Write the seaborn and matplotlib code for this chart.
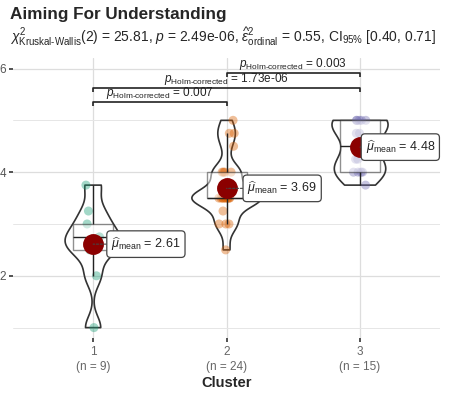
import numpy as np
import pandas as pd
import matplotlib
matplotlib.use("Agg")
import matplotlib.pyplot as plt
import seaborn as sns

# ---- data -------------------------------------------------------------
clusters = ["1", "2", "3"]
cluster1 = [1.0, 2.0, 2.5, 2.5, 2.75, 2.75, 3.0, 3.25, 3.75]
cluster2 = [2.5, 3.0, 3.0, 3.0, 3.25, 3.5, 3.5, 3.5, 3.5, 3.5, 3.5, 3.5, 3.5,
            3.5, 3.5, 3.75, 4.0, 4.0, 4.0, 4.0, 4.5, 4.75, 4.75, 5.0]
cluster3 = [3.75, 4.0, 4.0, 4.0, 4.0, 4.25, 4.25, 4.5, 4.75, 4.75,
            5.0, 5.0, 5.0, 5.0, 5.0]
pairs = [("1", "2"), ("1", "3"), ("2", "3")]
pair_pvalues = ["0.007", "1.73e-06", "0.003"]

title = "Aiming For Understanding"
subtitle = (r"$\chi^2_{\mathrm{Kruskal\text{-}Wallis}}(2)$ = 25.81, $\mathit{p}$ = 2.49e-06, "
            r"$\widehat{\epsilon}^2_{\mathrm{ordinal}}$ = 0.55, CI$_{95\%}$ [0.40, 0.71]")

groups = [cluster1, cluster2, cluster3]
df = pd.DataFrame({
    "Cluster": np.repeat(clusters, [len(g) for g in groups]),
    "value": np.concatenate(groups),
})

# ---- style ------------------------------------------------------------
sns.set_theme(style="whitegrid")
plt.rcParams["font.family"] = ["Liberation Sans", "DejaVu Sans"]
plt.rcParams["mathtext.fontset"] = "custom"
plt.rcParams["mathtext.rm"] = "Liberation Sans"
plt.rcParams["mathtext.it"] = "Liberation Sans:italic"
plt.rcParams["mathtext.bf"] = "Liberation Sans:bold"

palette = ["#1B9E77", "#D95F02", "#7570B3"]
violin_widths = [0.42, 0.52, 0.42]
bracket_levels = [5.35, 5.62, 5.91]

fig = plt.figure(figsize=(4.5, 3.93), dpi=100)
ax = fig.add_axes([0.029, 0.14, 0.949, 0.712])

# violins: one per group, bandwidth following R's nrd0 rule
for name, vals, w in zip(clusters, groups, violin_widths):
    v = np.asarray(vals)
    iqr = np.subtract(*np.percentile(v, [75, 25]))
    sd = v.std(ddof=1)
    bw = 0.9 * min(sd, iqr / 1.34) * len(v) ** -0.2
    sns.violinplot(x=[name] * len(v), y=v, order=clusters, cut=0, inner=None,
                   fill=False, color="#333333", linewidth=1.2,
                   bw_method=bw / sd, width=w, density_norm="width", ax=ax)

np.random.seed(3)
sns.stripplot(data=df, x="Cluster", y="value", hue="Cluster", order=clusters,
              palette=palette, alpha=0.4, size=6.5, jitter=0.06, linewidth=0,
              legend=False, ax=ax, zorder=3)

sns.boxplot(data=df, x="Cluster", y="value", order=clusters, width=0.3,
            showfliers=False, showcaps=False, whis=1.5, color="white",
            linecolor="#222222", linewidth=1.0,
            boxprops=dict(alpha=0.5), ax=ax, zorder=4)

sns.pointplot(data=df, x="Cluster", y="value", order=clusters, estimator="mean",
              errorbar=None, color="#8B0000", markers="o", markersize=13,
              linestyle="none", ax=ax, zorder=6)

# mean labels
label_offsets = [9, 11, 0]
for i, (vals, dx) in enumerate(zip(groups, label_offsets)):
    m = np.mean(vals)
    ax.annotate(r"$\widehat{\mu}_{\mathrm{mean}}$ = " + f"{m:.2f}",
                xy=(i, m), xytext=(dx + 4, 0), textcoords="offset points",
                ha="left", va="center", fontsize=9, color="#222222",
                bbox=dict(boxstyle="round,pad=0.35,rounding_size=0.3",
                          fc="white", ec="#444444", lw=0.9),
                arrowprops=dict(arrowstyle="-", color="#444444", lw=0.8,
                                linestyle=(0, (2, 1.5)), shrinkA=0, shrinkB=0),
                zorder=8)

# pairwise comparison brackets
tip = 0.07
for (a, b), p, yl in zip(pairs, pair_pvalues, bracket_levels):
    xa, xb = clusters.index(a), clusters.index(b)
    ax.plot([xa, xa, xb, xb], [yl - tip, yl, yl, yl - tip], color="#222222",
            lw=1.2, solid_capstyle="butt", zorder=7)
    ax.text((xa + xb) / 2, yl + 0.03, r"$\mathit{p}_{\mathrm{Holm\text{-}corrected}}$ = " + p,
            ha="center", va="bottom", fontsize=8.5, color="#222222", zorder=7)

# axes
ax.set_xlim(-0.6, 2.6)
ax.set_ylim(0.8, 6.2)
ax.set_yticks([2, 4, 6])
ax.set_yticks([1, 3, 5], minor=True)
ax.set_xticks(range(3))
ax.set_xticklabels([f"{c}\n(n = {len(g)})" for c, g in zip(clusters, groups)],
                   fontsize=8.5, color="#666666", linespacing=1.3)
ax.tick_params(axis="both", which="major", bottom=True, left=True,
               length=3, width=1.2, color="#333333")
ax.tick_params(axis="both", which="minor", bottom=False, left=False)
ax.tick_params(axis="y", labelsize=8.5, labelcolor="#555555", pad=2)
ax.tick_params(axis="x", pad=3)
ax.grid(True, which="major", color="#DDDDDD", lw=0.9)
ax.grid(True, which="minor", axis="y", color="#E6E6E6", lw=0.7)
for s in ax.spines.values():
    s.set_visible(False)
ax.set_xlabel("Cluster", fontsize=10.5, fontweight="bold", labelpad=2)
ax.set_ylabel("")

fig.text(0.022, 0.962, title, fontsize=12.3, fontweight="bold", va="center", ha="left")
fig.text(0.022, 0.905, subtitle, fontsize=10, va="center", ha="left")

fig.savefig("out.png", dpi=100)
